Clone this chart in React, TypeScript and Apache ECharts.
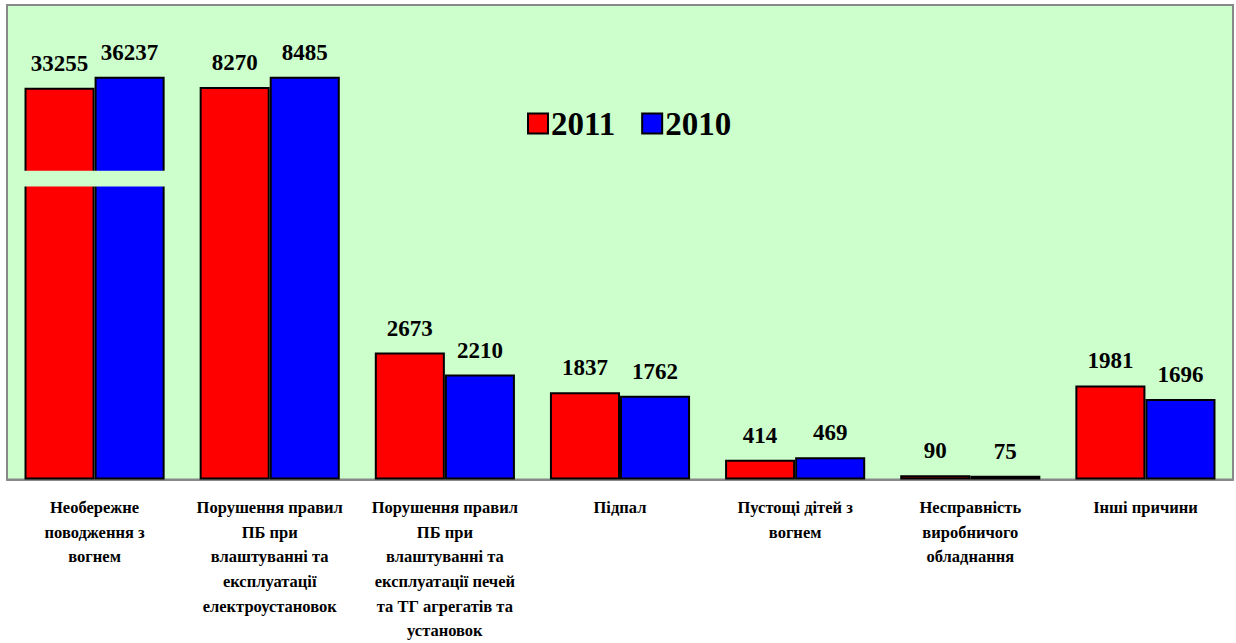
import React, { useEffect, useRef } from "react";
import * as echarts from "echarts";

const categories = [
  "Необережне\nповодження з\nвогнем",
  "Порушення правил\nПБ при\nвлаштуванні та\nексплуатації\nелектроустановок",
  "Порушення правил\nПБ при\nвлаштуванні та\nексплуатації печей\nта ТГ агрегатів та\nустановок",
  "Підпал",
  "Пустощі дітей з\nвогнем",
  "Несправність\nвиробничого\nобладнання",
  "Інші причини",
];
const values2011 = [33255, 8270, 2673, 1837, 414, 90, 1981];
const values2010 = [36237, 8485, 2210, 1762, 469, 75, 1696];
// heights drawn on the broken scale (first category is shown with an axis break)
const shown2011 = [8255, 8270, 2673, 1837, 414, 90, 1981];
const shown2010 = [8490, 8485, 2210, 1762, 469, 75, 1696];
// break band: [category index, lower value, upper value]
const breakBands = [[0, 6175, 6505]];

const FONT = "'Liberation Serif', 'Times New Roman', serif";

export default function App() {
  const ref = useRef<HTMLDivElement>(null);
  useEffect(() => {
    document.body.style.margin = "0";
    const chart = echarts.init(ref.current!, null, { renderer: "svg" });
    const labelStyle = {
      show: true,
      position: "top",
      distance: 13,
      fontFamily: FONT,
      fontWeight: "bold",
      fontSize: 23,
      color: "#000",
    };
    chart.setOption({
      animation: false,
      backgroundColor: "#fff",
      textStyle: { fontFamily: FONT, fontWeight: "bold" },
      grid: {
        left: 7,
        right: 3,
        top: 5,
        bottom: 163,
        show: true,
        backgroundColor: "#CCFFCC",
        borderColor: "#888",
        borderWidth: 2,
      },
      legend: {
        left: 522,
        top: 102,
        icon: "rect",
        itemWidth: 20,
        itemHeight: 20,
        itemGap: 26,
        data: ["2011", "2010"],
        textStyle: {
          fontFamily: FONT,
          fontWeight: "bold",
          fontSize: 33,
          color: "#000",
          padding: [0, 0, 0, -2],
        },
      },
      xAxis: {
        type: "category",
        data: categories,
        axisLine: { lineStyle: { color: "#888", width: 2 } },
        axisTick: { show: false },
        axisLabel: {
          interval: 0,
          margin: 16,
          fontFamily: FONT,
          fontWeight: "bold",
          fontSize: 16.5,
          lineHeight: 24.6,
          color: "#000",
          align: "center",
        },
      },
      yAxis: {
        type: "value",
        min: 0,
        max: 10000,
        show: false,
        splitLine: { show: false },
      },
      series: [
        {
          name: "2011",
          type: "bar",
          data: shown2011,
          barGap: "0%",
          barCategoryGap: "20%",
          itemStyle: { color: "#FF0000", borderColor: "#000", borderWidth: 2 },
          label: {
            ...labelStyle,
            formatter: (p: any) => String(values2011[p.dataIndex]),
          },
        },
        {
          name: "2010",
          type: "bar",
          data: shown2010,
          itemStyle: { color: "#0000FF", borderColor: "#000", borderWidth: 2 },
          label: {
            ...labelStyle,
            formatter: (p: any) => String(values2010[p.dataIndex]),
          },
        },
        {
          type: "custom",
          silent: true,
          z: 10,
          data: breakBands,
          renderItem: (params: any, api: any) => {
            const lo = api.coord([api.value(0), api.value(1)]);
            const hi = api.coord([api.value(0), api.value(2)]);
            const band = api.size([1, 0])[0];
            const w = band * 0.8 + 3;
            return {
              type: "rect",
              shape: { x: lo[0] - w / 2, y: hi[1], width: w, height: lo[1] - hi[1] },
              style: { fill: "#CCFFCC" },
            };
          },
        },
      ],
    });
    return () => chart.dispose();
  }, []);
  return <div ref={ref} style={{ width: 1236, height: 643 }} />;
}
